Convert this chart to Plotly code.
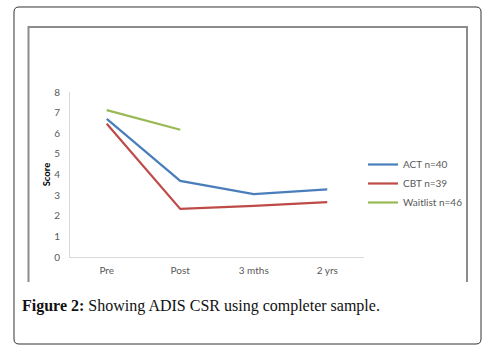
import re
import plotly.graph_objects as go

categories = ["Pre", "Post", "3 mths", "2 yrs"]
act = [6.7, 3.69, 3.05, 3.28]
cbt = [6.46, 2.33, 2.48, 2.66]
waitlist = [7.12, 6.17, None, None]
names = ["ACT n=40", "CBT n=39", "Waitlist n=46"]
colors = ["#4a7ebb", "#be4b48", "#98b954"]

W, H = 495, 348
fig = go.Figure()
for vals, name, col in zip([act, cbt, waitlist], names, colors):
    fig.add_trace(go.Scatter(x=categories, y=vals, mode="lines", name=name,
                             line=dict(color=col, width=2.2), connectgaps=False))

def px(x):
    return x / W

def py(y):
    return 1 - y / H

fig.update_layout(
    width=W, height=H, margin=dict(l=0, r=0, t=0, b=0, autoexpand=False),
    paper_bgcolor="white", plot_bgcolor="white",
    font=dict(family="Lato, Open Sans, sans-serif", color="#595959", size=10),
    xaxis=dict(domain=[px(70), px(364)], range=[-0.5, 3.5], showgrid=False,
               showline=True, linecolor="#d9d9d9", linewidth=1, ticks="",
               ticklabelstandoff=4,
               tickfont=dict(size=10, color="#595959"), zeroline=False, automargin=False),
    yaxis=dict(domain=[py(257), py(92)], range=[0, 8], dtick=1, showgrid=False,
               showline=True, linecolor="#d9d9d9", linewidth=1, ticks="",
               ticklabelstandoff=7,
               tickfont=dict(size=10, color="#595959"), zeroline=False, automargin=False,
               title=dict(text="<b>Score</b>", font=dict(size=9.5, color="#000000"), standoff=1)),
    legend=dict(x=px(363), y=py(150), xanchor="left", yanchor="top",
                font=dict(size=10, color="#595959"), itemwidth=30,
                tracegroupgap=0, bgcolor="rgba(0,0,0,0)"),
    showlegend=True,
)

# outer rounded box
x0, y0, x1, y1, r = 14, 7, 481, 344, 5
path = (f"M {x0+r},{y0} L {x1-r},{y0} Q {x1},{y0} {x1},{y0+r} L {x1},{y1-r} "
        f"Q {x1},{y1} {x1-r},{y1} L {x0+r},{y1} Q {x0},{y1} {x0},{y1-r} "
        f"L {x0},{y0+r} Q {x0},{y0} {x0+r},{y0} Z")
def conv(m):
    a, b = float(m.group(1)), float(m.group(2))
    return f"{px(a):.5f},{py(b):.5f}"
fig.add_shape(type="path", xref="paper", yref="paper",
              path=re.sub(r"([\d.]+),([\d.]+)", conv, path),
              line=dict(color="#333333", width=1))

# inner gray frame (open at bottom)
fig.add_shape(type="path", xref="paper", yref="paper",
              path=f"M {px(28.5)},{py(282)} L {px(28.5)},{py(27)} L {px(467)},{py(27)} L {px(467)},{py(282)}",
              line=dict(color="#8c8c8c", width=2))

fig.add_annotation(xref="paper", yref="paper", x=px(20), y=py(306), xanchor="left", yanchor="middle",
                   text="<b>Figure 2:</b> Showing ADIS CSR using completer sample.", showarrow=False,
                   font=dict(family="Liberation Serif, DejaVu Serif, serif", size=16, color="#111111"))

fig.write_html("out.html", config={"displayModeBar": False},
               post_script="document.body.style.margin='0';document.body.style.overflow='hidden';")
